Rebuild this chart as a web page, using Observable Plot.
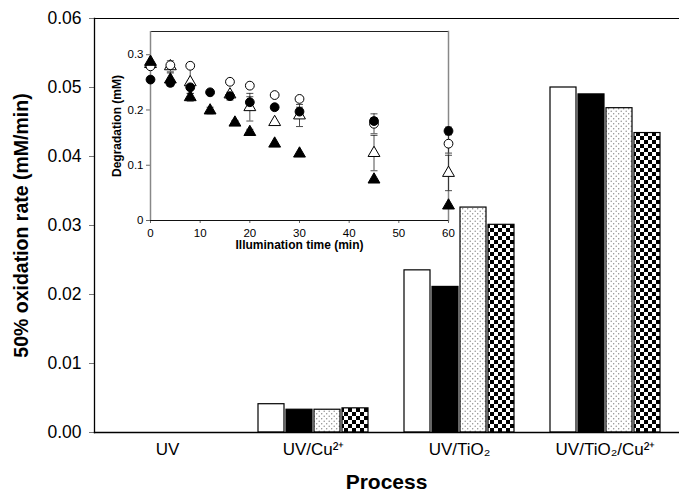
<!DOCTYPE html>
<html><head><meta charset="utf-8">
<script src="https://cdn.jsdelivr.net/npm/d3@7"></script>
<script src="https://cdn.jsdelivr.net/npm/@observablehq/plot@0.6"></script>
<style>
body{margin:0;background:#fff;font-family:"Liberation Sans",Arial,sans-serif;}
#wrap{position:relative;width:679px;height:491px;overflow:hidden;}
#main{position:absolute;left:0;top:0;}
#inset{position:absolute;left:100px;top:20px;}
#main [aria-label="y-axis label"] text{font-weight:bold;font-size:19.5px;}
#main [aria-label="fx-axis label"] text{font-weight:bold;font-size:21px;}
#inset [aria-label="x-axis label"] text, #inset [aria-label="y-axis label"] text{font-weight:bold;font-size:12px;}
</style></head><body><div id="wrap"><div id="main"></div><div id="inset"></div></div>
<script>
// ---- main chart data ----
const processes = ["UV", "UV/Cu²⁺", "UV/TiO₂", "UV/TiO₂/Cu²⁺"];
const seriesNames = ["A", "B", "C", "D"];
const rateA = [0, 0.0041, 0.0235, 0.0500];
const rateB = [0, 0.0033, 0.0211, 0.0490];
const rateC = [0, 0.0033, 0.0326, 0.0470];
const rateD = [0, 0.0035, 0.0301, 0.0434];
const yTicks = [0, 0.01, 0.02, 0.03, 0.04, 0.05, 0.06];

// ---- inset data ----
const times = [0, 4, 8, 12, 16, 17, 20, 25, 30, 45, 60];
const filledCircle = [0.255, 0.249, 0.241, 0.232, 0.225, null, 0.214, 0.205, 0.197, 0.180, 0.162];
const filledCircleErr = [0.005, 0.005, 0.011, 0, 0.007, null, 0.01, 0.005, 0.008, 0.006, 0.007];
const openCircle = [0.279, 0.281, 0.280, null, 0.251, null, 0.244, 0.227, 0.220, 0.175, 0.139];
const openCircleErr = [0, 0, 0, null, 0, null, 0, 0, 0.004, 0.018, 0.017];
const openTriangle = [0.283, 0.279, 0.250, null, 0.228, null, 0.205, 0.178, 0.190, 0.122, 0.086];
const openTriangleErr = [0, 0.01, 0.03, null, 0, null, 0.025, 0, 0.02, 0.032, 0.032];
const filledTriangle = [0.287, 0.255, 0.223, 0.199, null, 0.177, 0.160, 0.139, 0.121, 0.074, 0.027];
const filledTriangleErr = [0, 0.012, 0.007, 0.006, null, 0.004, 0.005, 0, 0, 0, 0];
const insetXTicks = [0, 10, 20, 30, 40, 50, 60];
const insetYTicks = [0, 0.1, 0.2, 0.3];

// ---- build tables ----
const rates = [rateA, rateB, rateC, rateD];
const bars = [];
processes.forEach((p, i) => seriesNames.forEach((s, j) => {
  if (rates[j][i] != null) bars.push({process: p, series: s, value: rates[j][i]});
}));

const insetSeries = [
  {name: "open triangle", vals: openTriangle, errs: openTriangleErr, symbol: "triangle", fill: "white"},
  {name: "open circle", vals: openCircle, errs: openCircleErr, symbol: "circle", fill: "white"},
  {name: "filled triangle", vals: filledTriangle, errs: filledTriangleErr, symbol: "triangle", fill: "black"},
  {name: "filled circle", vals: filledCircle, errs: filledCircleErr, symbol: "circle", fill: "black"}
];
const pts = [];
insetSeries.forEach(s => times.forEach((t, i) => {
  if (s.vals[i] != null) pts.push({series: s.name, t, v: s.vals[i], e: s.errs[i] || 0, symbol: s.symbol, fill: s.fill});
}));
const errPts = pts.filter(d => d.e > 0);
const capSymbol = {draw(ctx, size) { const w = 3.5; ctx.moveTo(-w, 0); ctx.lineTo(w, 0); }};

const font = "'Liberation Sans', Arial, sans-serif";

const main = Plot.plot({
  width: 679, height: 491,
  marginLeft: 92, marginRight: 0, marginTop: 18, marginBottom: 59,
  style: {fontFamily: font, fontSize: "17px", color: "#000", background: "white"},
  fx: {domain: processes, padding: 0},
  x: {domain: seriesNames, paddingInner: 0.07, paddingOuter: 0.62, axis: null},
  y: {domain: [0, 0.06]},
  color: {type: "ordinal", domain: seriesNames, range: ["white", "black", "url(#dotsPat)", "url(#checkPat)"]},
  marks: [
    Plot.axisY({ticks: yTicks, tickFormat: d3.format(".2f"), tickSize: 5, tickPadding: 8, stroke: "#777",
      label: "50% oxidation rate (mM/min)", labelAnchor: "center", labelArrow: "none", labelOffset: 80, fontSize: 17.5}),
    Plot.axisFx({anchor: "bottom", tickSize: 0, tickPadding: 10, fontSize: 17,
      label: "Process", labelAnchor: "center", labelArrow: "none", labelOffset: 56}),
    Plot.barY(bars, {filter: d => d.value > 0, fx: "process", x: "series", y: "value", fill: "series", stroke: "#000", strokeWidth: 1.2}),
    Plot.ruleY(bars, {filter: d => d.value === 0, fx: "process", y: "value", strokeOpacity: 0}),
    Plot.frame({anchor: "top", facet: "super"}),
    Plot.frame({anchor: "left", facet: "super", strokeWidth: 1.3}),
    Plot.frame({anchor: "bottom", facet: "super", strokeWidth: 1.3})
  ]
});
const defs = document.createElementNS("http://www.w3.org/2000/svg", "defs");
defs.innerHTML = `
<pattern id="dotsPat" patternUnits="userSpaceOnUse" width="5" height="5">
  <rect width="5" height="5" fill="#fff"/>
  <circle cx="1.2" cy="1.2" r="0.7" fill="#888"/>
  <circle cx="3.7" cy="3.7" r="0.7" fill="#888"/>
</pattern>
<pattern id="checkPat" patternUnits="userSpaceOnUse" width="8" height="8">
  <rect width="8" height="8" fill="#fff"/>
  <rect x="0" y="0" width="4" height="4" fill="#000"/>
  <rect x="4" y="4" width="4" height="4" fill="#000"/>
</pattern>`;
main.insertBefore(defs, main.firstChild);
document.getElementById("main").append(main);

const inset = Plot.plot({
  width: 360, height: 240,
  marginLeft: 50, marginRight: 12, marginTop: 11, marginBottom: 40,
  style: {fontFamily: font, fontSize: "11.5px", color: "#000", background: "transparent"},
  x: {domain: [0, 60]},
  y: {domain: [0, 0.342]},
  marks: [
    Plot.frame({anchor: "top", stroke: "#222"}),
    Plot.frame({anchor: "right", stroke: "#888", strokeWidth: 1.5}),
    Plot.axisX({ticks: insetXTicks, tickSize: 3, tickPadding: 5, stroke: "#666", fontSize: 11.5,
      label: "Illumination time (min)", labelAnchor: "center", labelArrow: "none", labelOffset: 28}),
    Plot.axisY({ticks: insetYTicks, tickFormat: d => d === 0 ? "0" : String(d), tickSize: 4, tickPadding: 3, stroke: "#666", fontSize: 11.5,
      label: "Degradation (mM)", labelAnchor: "center", labelArrow: "none", labelOffset: 38}),
    Plot.ruleY([0], {stroke: "#111"}),
    Plot.ruleX([0], {stroke: "#888", strokeWidth: 1.5}),
    Plot.ruleX(errPts, {x: "t", y1: d => d.v - d.e, y2: d => d.v + d.e, stroke: "#222", strokeWidth: 0.8}),
    Plot.dot(errPts, {x: "t", y: d => d.v - d.e, symbol: capSymbol, stroke: "#222", strokeWidth: 0.8}),
    Plot.dot(errPts, {x: "t", y: d => d.v + d.e, symbol: capSymbol, stroke: "#222", strokeWidth: 0.8}),
    Plot.dot(pts, {x: "t", y: "v", symbol: d => d.symbol, fill: d => d.fill, stroke: "#000", strokeWidth: 1, r: 4.4})
  ]
});
document.getElementById("inset").append(inset);
</script></body></html>
